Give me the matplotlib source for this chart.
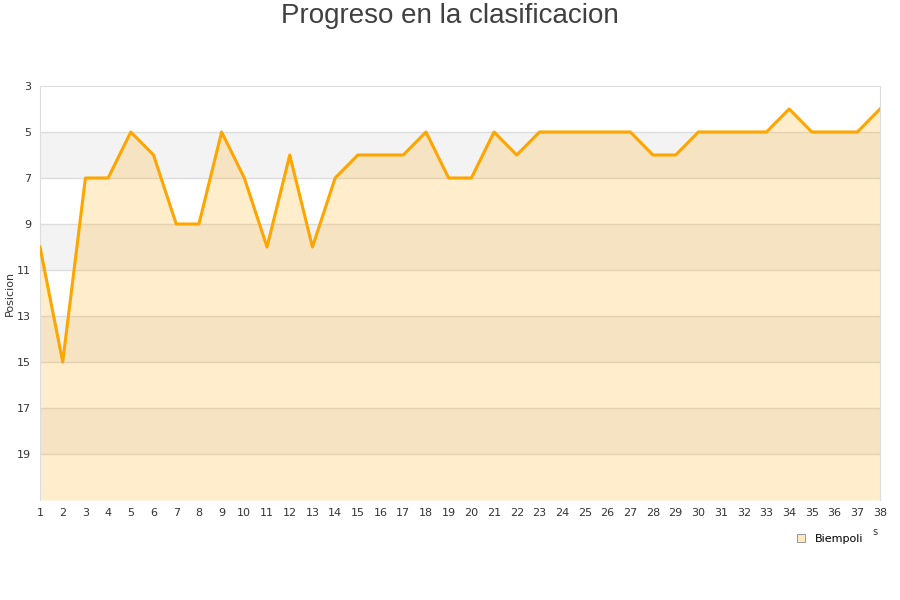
import matplotlib
matplotlib.use("Agg")
import matplotlib.pyplot as plt
from matplotlib.patches import Patch

jornadas = list(range(1, 39))
posicion = [10, 15, 7, 7, 5, 6, 9, 9, 5, 7, 10, 6, 10, 7, 6, 6, 6, 5, 7, 7,
            5, 6, 5, 5, 5, 5, 5, 6, 6, 5, 5, 5, 5, 4, 5, 5, 5, 4]
equipo = "Biempoli"
yticks = [3, 5, 7, 9, 11, 13, 15, 17, 19]

fig = plt.figure(figsize=(9, 6), dpi=100)
ax = fig.add_axes([40/900, 100/600, 840/900, 414/600])

# franjas alternas
for i, y0 in enumerate(range(3, 21, 2)):
    if i % 2 == 1:
        ax.axhspan(y0, y0 + 2, color='#f3f3f3', zorder=0, lw=0)
for y in yticks[1:]:
    ax.axhline(y, color='#dddddd', lw=1, zorder=1)

ax.fill_between(jornadas, posicion, 21, color='#ffa500', alpha=0.2, lw=0, zorder=2)
ax.plot(jornadas, posicion, color='#ffa500', lw=2.2, zorder=3)

ax.set_xlim(1, 38)
ax.set_ylim(21, 3)
ax.set_yticks(yticks)
ax.set_xticks(jornadas)
ax.tick_params(length=0, labelsize=8, colors='#333333')
ax.tick_params(axis='y', pad=6.5)
ax.tick_params(axis='x', pad=6)
for s in ['top', 'right', 'left', 'bottom']:
    ax.spines[s].set_color('#dddddd')
ax.spines['bottom'].set_visible(False)
ax.set_ylabel("Posicion", fontsize=8, color='#333333')
ax.yaxis.set_label_coords(-25/840, 0.5)

fig.suptitle("Progreso en la clasificacion", fontsize=20, color='#404040',
             family='Liberation Sans', y=0.995)
fig.text(875/900, 1 - 532/600, "s", fontsize=7, color='#333333', ha='center', va='center')

leg = fig.legend(handles=[Patch(facecolor='#ffe8c0', edgecolor='#888888', lw=0.6, label=equipo)],
                 loc='center', bbox_to_anchor=(830/900, 1 - 539/600), frameon=False,
                 fontsize=8, handlelength=0.7, handleheight=0.7, handletextpad=0.9)

fig.savefig("out.png", dpi=100)
